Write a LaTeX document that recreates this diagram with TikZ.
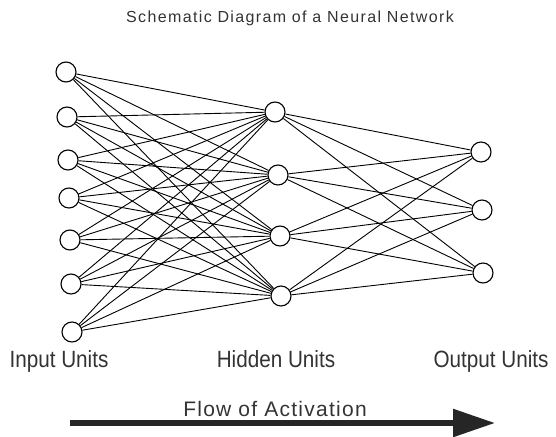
\documentclass[tikz,border=0pt]{standalone}
\usepackage{fontspec}
\setmainfont{Liberation Sans}
\usetikzlibrary{arrows.meta}
\begin{document}
\begin{tikzpicture}[x=1pt,y=-1pt]
          \useasboundingbox (0,0) rectangle (556,436);
          \tikzstyle{every node} = [draw, circle, line width=1.1pt, minimum size=20pt, inner sep=0pt, fill=white];
          \node(i1) at (66,72) {};
          \node(i2) at (67,117) {};
          \node(i3) at (68,160) {};
          \node(i4) at (69,198) {};
          \node(i5) at (70,240) {};
          \node(i6) at (71,284) {};
          \node(i7) at (72,332) {};
          \node(h1) at (275,112) {};
          \node(h2) at (278,175) {};
          \node(h3) at (280,236) {};
          \node(h4) at (281,296) {};
          \node(o1) at (481,152) {};
          \node(o2) at (482,210) {};
          \node(o3) at (483,273) {};
          \foreach \a in {i1,i2,i3,i4,i5,i6,i7}
            \foreach \b in {h1,h2,h3,h4}
              \draw[line width=0.9pt] (\a) -- (\b);
          \foreach \a in {h1,h2,h3,h4}
            \foreach \b in {o1,o2,o3}
              \draw[line width=0.9pt] (\a) -- (\b);
          \tikzstyle{every node} = [text=black!80]
          \tikzstyle{unit label} = [anchor=base, xscale=0.88, font=\fontsize{23.5}{27}\selectfont]
          \node(title) at (290,18) {\fontsize{16}{19}\selectfont\addfontfeature{LetterSpace=8.5}Schematic Diagram of a Neural Network};
          \node[unit label](lin) at (59,367) {Input Units};
          \node[unit label](lhid) at (276,367) {Hidden Units};
          \node[unit label](lout) at (491,367) {Output Units};
          \node(flow) at (275,409) {\fontsize{21}{25}\selectfont\addfontfeature{LetterSpace=6}Flow of Activation};
          \coordinate(fs) at (70,423);
          \coordinate(fe) at (495,423);
          \draw[line width=5.5pt, black!85, -{Triangle[length=42pt,width=27pt]}] (fs) -- (fe);
          \end{tikzpicture}
\end{document}
